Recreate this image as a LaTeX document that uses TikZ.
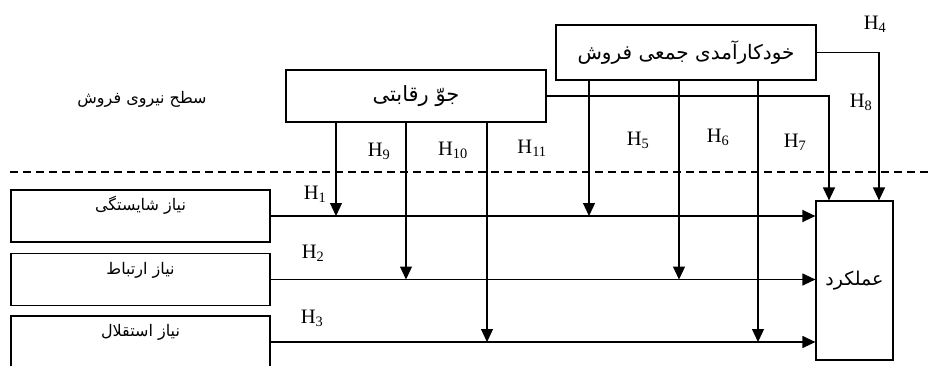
\documentclass[tikz,border=0pt]{standalone}
\usepackage{fontspec}
\setmainfont{Liberation Serif}
\newfontfamily\farsi[Script=Arabic]{DejaVu Sans}
\TeXXeTstate=1
\usetikzlibrary{arrows.meta}

\tikzset{
	box/.style={draw, line width=1.2pt, inner sep=0pt, font=\farsi\fontsize{16}{18}\selectfont},
	needbox/.style={box, minimum width=259pt, minimum height=52pt, text height=10pt, text depth=21pt},
	arr/.style={-{Triangle[length=13pt, width=12pt]}, line width=1.2pt},
	hlab/.style={inner sep=0pt, font=\fontsize{20.5}{22}\selectfont}
}

\begin{document}
\begin{tikzpicture}[x=1pt, y=-1pt]
	\useasboundingbox (0, 0) rectangle (931, 365);

	\draw node[box, minimum width=260pt, minimum height=52pt, font=\farsi\fontsize{21}{23}\selectfont] at (416, 96) (climate) {\beginR جوّ رقابتی\endR};
	\draw node[box, minimum width=260pt, minimum height=55pt, font=\farsi\fontsize{20}{22}\selectfont] at (686, 52.5) (selfeff) {\beginR خودکارآمدی جمعی فروش\endR};
	\draw node[needbox] at (140.5, 216) (n1) {\beginR نیاز شایستگی\endR};
	\draw node[needbox] at (140.5, 279.5) (n2) {\beginR نیاز ارتباط\endR};
	\draw node[needbox] at (140.5, 342) (n3) {\beginR نیاز استقلال\endR};
	\draw node[box, minimum width=77pt, minimum height=159pt, font=\farsi\fontsize{19}{21}\selectfont] at (854.5, 280.5) (perf) {\beginR عملکرد\endR};
	\draw node[font=\farsi\fontsize{16}{18}\selectfont] at (142, 99) (level) {\beginR سطح نیروی فروش\endR};

	\draw [dashed, dash pattern=on 8pt off 5pt, line width=1.2pt] (10, 172) -- (931, 172);

	\draw [arr] (n1.east) -- (n1.east -| perf.west);
	\draw [arr] (n2.east) -- (n2.east -| perf.west);
	\draw [arr] (n3.east) -- (n3.east -| perf.west);

	\draw [arr] (336,0 |- climate.south) -- (336,0 |- n1.east);
	\draw [arr] (406,0 |- climate.south) -- (406,0 |- n2.east);
	\draw [arr] (487,0 |- climate.south) -- (487,0 |- n3.east);
	\draw [arr] (589,0 |- selfeff.south) -- (589,0 |- n1.east);
	\draw [arr] (679,0 |- selfeff.south) -- (679,0 |- n2.east);
	\draw [arr] (758,0 |- selfeff.south) -- (758,0 |- n3.east);

	\draw [arr] (climate.east) -- (829,0 |- climate.east) -- (829,0 |- perf.north);
	\draw [arr] (selfeff.east) -- (879,0 |- selfeff.east) -- (879,0 |- perf.north);

	\draw node[hlab] at (315, 194) (h1) {H\textsubscript{1}};
	\draw node[hlab] at (313, 253) (h2) {H\textsubscript{2}};
	\draw node[hlab] at (312, 318) (h3) {H\textsubscript{3}};
	\draw node[hlab] at (875, 24) (h4) {H\textsubscript{4}};
	\draw node[hlab] at (638, 140) (h5) {H\textsubscript{5}};
	\draw node[hlab] at (718, 137) (h6) {H\textsubscript{6}};
	\draw node[hlab] at (795, 142) (h7) {H\textsubscript{7}};
	\draw node[hlab] at (861, 102) (h8) {H\textsubscript{8}};
	\draw node[hlab] at (379, 151) (h9) {H\textsubscript{9}};
	\draw node[hlab] at (453, 150) (h10) {H\textsubscript{10}};
	\draw node[hlab] at (532, 148) (h11) {H\textsubscript{11}};
\end{tikzpicture}
\end{document}
